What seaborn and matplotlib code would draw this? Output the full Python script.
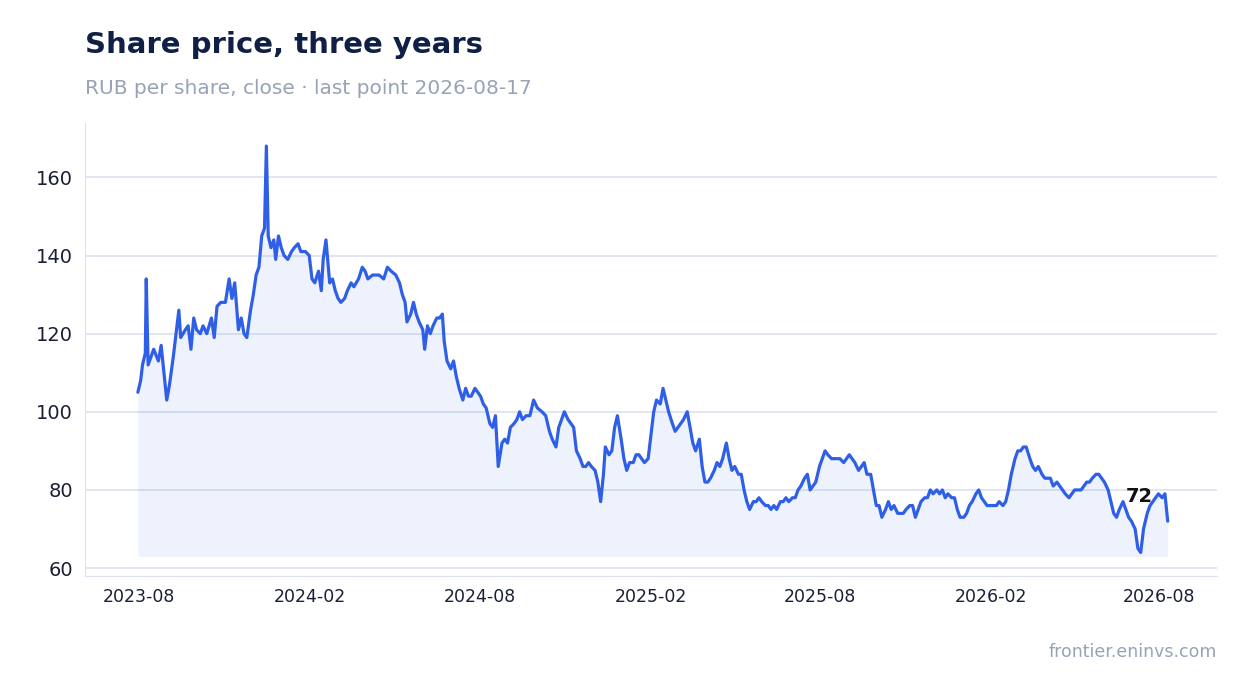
import matplotlib
matplotlib.use("Agg")
import matplotlib.pyplot as plt
import matplotlib.dates as mdates
import seaborn as sns
import pandas as pd

# days since start and closing price
days = [
    0, 3, 5, 8, 9, 11, 14, 17, 22, 25,
    28, 31, 34, 38, 41, 44, 46, 51, 54, 57,
    60, 63, 67, 70, 74, 79, 82, 85, 89, 94,
    98, 101, 104, 108, 111, 114, 117, 121, 124, 127,
    130, 133, 136, 138, 140, 143, 146, 148, 151, 154,
    157, 161, 165, 168, 172, 175, 180, 184, 187, 190,
    194, 197, 199, 202, 206, 209, 212, 215, 218, 222,
    225, 229, 232, 237, 241, 244, 247, 252, 256, 259,
    264, 268, 272, 277, 281, 284, 287, 289, 293, 296,
    299, 302, 306, 308, 311, 314, 317, 321, 324, 327,
    329, 332, 336, 339, 342, 345, 349, 352, 355, 358,
    362, 365, 368, 371, 374, 378, 381, 384, 387, 391,
    394, 397, 400, 404, 407, 410, 413, 417, 421, 425,
    429, 434, 438, 442, 445, 449, 452, 455, 458, 462,
    465, 468, 471, 475, 478, 481, 484, 487, 491, 494,
    497, 500, 502, 506, 509, 512, 515, 519, 522, 525,
    528, 532, 535, 538, 541, 544, 548, 551, 554, 557,
    561, 564, 567, 570, 574, 577, 580, 583, 586, 590,
    593, 596, 599, 603, 606, 609, 612, 615, 619, 622,
    625, 628, 632, 635, 638, 641, 645, 648, 651, 654,
    657, 661, 664, 667, 670, 674, 677, 680, 683, 686,
    690, 693, 696, 699, 703, 706, 709, 712, 716, 719,
    722, 725, 728, 732, 735, 738, 741, 745, 748, 751,
    754, 758, 761, 764, 767, 770, 774, 777, 780, 783,
    787, 790, 793, 796, 799, 803, 806, 809, 812, 816,
    819, 822, 825, 829, 832, 835, 838, 841, 845, 848,
    851, 854, 858, 861, 864, 867, 870, 874, 877, 880,
    883, 887, 890, 893, 896, 900, 903, 906, 909, 912,
    916, 919, 922, 925, 929, 932, 935, 938, 942, 945,
    948, 951, 954, 958, 961, 964, 967, 971, 974, 977,
    980, 983, 987, 990, 993, 996, 1000, 1003, 1006, 1009,
    1013, 1016, 1019, 1022, 1025, 1029, 1032, 1035, 1038, 1042,
    1045, 1048, 1051, 1054, 1058, 1061, 1064, 1067, 1071, 1074,
    1077, 1080, 1084, 1087, 1090, 1093, 1096, 1100, 1103, 1106,
]
price = [
    105, 108, 112, 115, 134, 112, 114, 116, 113, 117,
    110, 103, 107, 114, 120, 126, 119, 121, 122, 116,
    124, 121, 120, 122, 120, 124, 119, 127, 128, 128,
    134, 129, 133, 121, 124, 120, 119, 126, 130, 135,
    137, 145, 147, 168, 145, 142, 144, 139, 145, 142,
    140, 139, 141, 142, 143, 141, 141, 140, 134, 133,
    136, 131, 139, 144, 133, 134, 131, 129, 128, 129,
    131, 133, 132, 134, 137, 136, 134, 135, 135, 135,
    134, 137, 136, 135, 133, 130, 128, 123, 125, 128,
    125, 123, 121, 116, 122, 120, 122, 124, 124, 125,
    118, 113, 111, 113, 109, 106, 103, 106, 104, 104,
    106, 105, 104, 102, 101, 97, 96, 99, 86, 92,
    93, 92, 96, 97, 98, 100, 98, 99, 99, 103,
    101, 100, 99, 95, 93, 91, 96, 98, 100, 98,
    97, 96, 90, 88, 86, 86, 87, 86, 85, 82,
    77, 84, 91, 89, 90, 96, 99, 93, 88, 85,
    87, 87, 89, 89, 88, 87, 88, 94, 100, 103,
    102, 106, 103, 100, 97, 95, 96, 97, 98, 100,
    96, 92, 90, 93, 86, 82, 82, 83, 85, 87,
    86, 88, 92, 88, 85, 86, 84, 84, 80, 77,
    75, 77, 77, 78, 77, 76, 76, 75, 76, 75,
    77, 77, 78, 77, 78, 78, 80, 81, 83, 84,
    80, 81, 82, 86, 88, 90, 89, 88, 88, 88,
    88, 87, 88, 89, 88, 87, 85, 86, 87, 84,
    84, 80, 76, 76, 73, 75, 77, 75, 76, 74,
    74, 74, 75, 76, 76, 73, 75, 77, 78, 78,
    80, 79, 80, 79, 80, 78, 79, 78, 78, 75,
    73, 73, 74, 76, 77, 79, 80, 78, 77, 76,
    76, 76, 76, 77, 76, 77, 80, 84, 88, 90,
    90, 91, 91, 88, 86, 85, 86, 84, 83, 83,
    83, 81, 82, 81, 80, 79, 78, 79, 80, 80,
    80, 81, 82, 82, 83, 84, 84, 83, 82, 80,
    77, 74, 73, 75, 77, 75, 73, 72, 70, 65,
    64, 70, 74, 76, 77, 78, 79, 78, 79, 72,
]
start_date = "2023-07-31"
tick_dates = ["2023-08-01", "2024-02-01", "2024-08-01", "2025-02-01",
              "2025-08-01", "2026-02-01", "2026-08-01"]

n = min(len(days), len(price))
df = pd.DataFrame({
    "date": pd.Timestamp(start_date) + pd.to_timedelta(days[:n], unit="D"),
    "close": price[:n],
})

sns.set_style("white")
plt.rcParams["font.family"] = ["DejaVu Sans"]

fig = plt.figure(figsize=(12.47, 6.93), dpi=100)
ax = fig.add_axes([0.068, 0.169, 0.908, 0.654])

line_col = "#2f5fe6"
sns.lineplot(data=df, x="date", y="close", ax=ax, color=line_col, lw=2.3)
ax.fill_between(df["date"], df["close"], 63, color=line_col, alpha=0.08, lw=0)

ax.set_ylim(58, 174)
ax.set_xlim(pd.Timestamp("2023-06-04"), pd.Timestamp("2026-10-02"))
ax.set_yticks([60, 80, 100, 120, 140, 160])
ax.set_xticks(pd.to_datetime(tick_dates))
ax.xaxis.set_major_formatter(mdates.DateFormatter("%Y-%m"))
ax.tick_params(axis="y", labelsize=14, colors="#1a1f36", length=5, color="#c5cad8")
ax.tick_params(axis="x", labelsize=12.5, colors="#1a1f36", length=5, color="#c5cad8")
ax.grid(axis="y", color="#dde2ee", lw=1.2)
ax.set_xlabel("")
ax.set_ylabel("")
for s in ["top", "right"]:
    ax.spines[s].set_visible(False)
for s in ["left", "bottom"]:
    ax.spines[s].set_color("#dde2ee")

last = df.iloc[-1]
ax.annotate(f"{last['close']:.0f}", (last["date"], last["close"]),
            xytext=(-30, 18), textcoords="offset points",
            fontsize=14, fontweight="bold", color="#111111", va="center")

fig.text(0.068, 0.935, "Share price, three years", fontsize=21, fontweight="bold",
         color="#0f1f45", va="center")
fig.text(0.068, 0.873, "RUB per share, close · last point 2026-08-17", fontsize=14.5,
         color="#97a3b6", va="center")
fig.text(0.976, 0.059, "frontier.eninvs.com", fontsize=12.5, color="#97a3b6",
         ha="right", va="center")

fig.savefig("out.png", dpi=100)
